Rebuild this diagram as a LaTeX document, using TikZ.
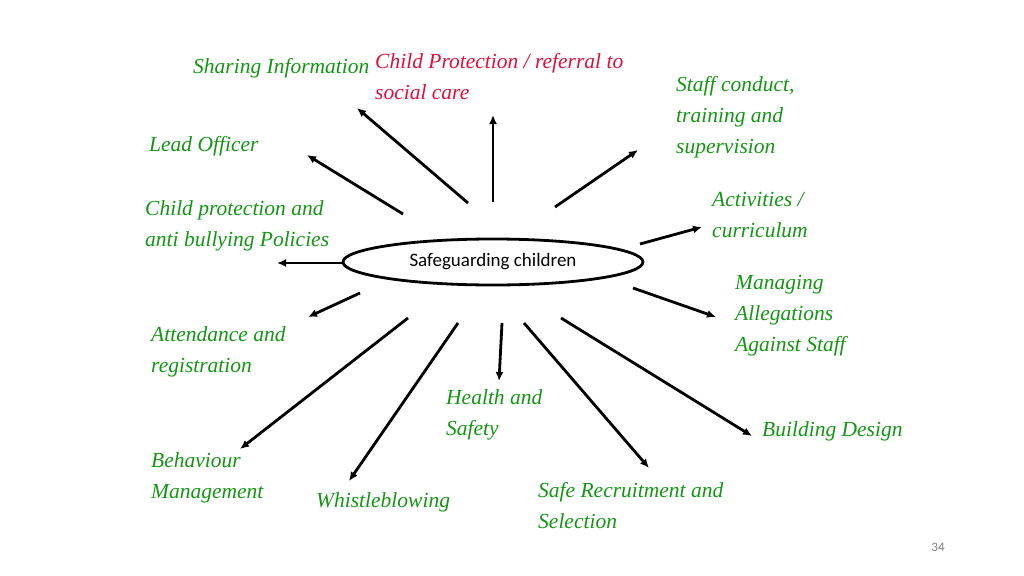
\documentclass[tikz,border=0pt]{standalone}
\usepackage{fontspec}
\setmainfont{Liberation Serif}
\newfontfamily\carlitofont{Carlito}
\usetikzlibrary{shapes.geometric,arrows.meta}
\definecolor{gr}{RGB}{20,150,20}
\definecolor{rd}{RGB}{225,15,60}
\begin{document}
\begin{tikzpicture}[x=1pt,y=-1pt,
 lab/.style={anchor=west,align=left,text=gr,font=\fontsize{21.5}{31}\selectfont\itshape,inner sep=0},
 arr/.style={-{Latex[length=9pt,width=8pt]},line width=2.8pt}]
\useasboundingbox (0,0) rectangle (1024,575);
\node[draw,ellipse,line width=2.8pt,minimum width=300,minimum height=46,font=\carlitofont\fontsize{19}{21}\selectfont] (c) at (493,262) {Safeguarding children};
\coordinate (a1) at (403,214); \coordinate (b1) at (307,155);
\coordinate (a2) at (468,203); \coordinate (b2) at (357,108);
\coordinate (a3) at (493,202); \coordinate (b3) at (493,115);
\coordinate (a4) at (555,207); \coordinate (b4) at (638,150);
\coordinate (a5) at (640,244); \coordinate (b5) at (702,227);
\coordinate (a6) at (342,263); \coordinate (b6) at (277,263);
\coordinate (a7) at (633,288); \coordinate (b7) at (716,317);
\coordinate (a8) at (360,293); \coordinate (b8) at (308,317);
\coordinate (a9) at (408,318); \coordinate (b9) at (240,449);
\coordinate (a10) at (458,323); \coordinate (b10) at (349,481);
\coordinate (a11) at (502,323); \coordinate (b11) at (499,381);
\coordinate (a12) at (524,323); \coordinate (b12) at (649,468);
\coordinate (a13) at (561,318); \coordinate (b13) at (752,436);
\foreach \i in {1,...,13} \draw[arr] (a\i) -- (b\i);
\node[lab] (t1) at (193,68) {Sharing Information};
\node[lab,text=rd] (t2) at (375,77) {Child Protection / referral to\\social care};
\node[lab] (t3) at (676,117) {Staff conduct,\\training and\\supervision};
\node[lab] (t4) at (149,146) {Lead Officer};
\node[lab] (t5) at (712,215) {Activities /\\curriculum};
\node[lab] (t6) at (145,226) {Child protection and\\anti bullying Policies};
\node[lab] (t7) at (735,316) {Managing\\Allegations\\Against Staff};
\node[lab] (t8) at (151,352) {Attendance and\\registration};
\node[lab] (t9) at (446,415) {Health and\\Safety};
\node[lab] (t10) at (762,431) {Building Design};
\node[lab] (t11) at (151,478) {Behaviour\\Management};
\node[lab] (t12) at (316,502) {Whistleblowing};
\node[lab] (t13) at (538,506) {Safe Recruitment and\\Selection};
\node[text=gray,font=\carlitofont\fontsize{13}{14}\selectfont] (pg) at (938,547) {34};
\end{tikzpicture}
\end{document}
